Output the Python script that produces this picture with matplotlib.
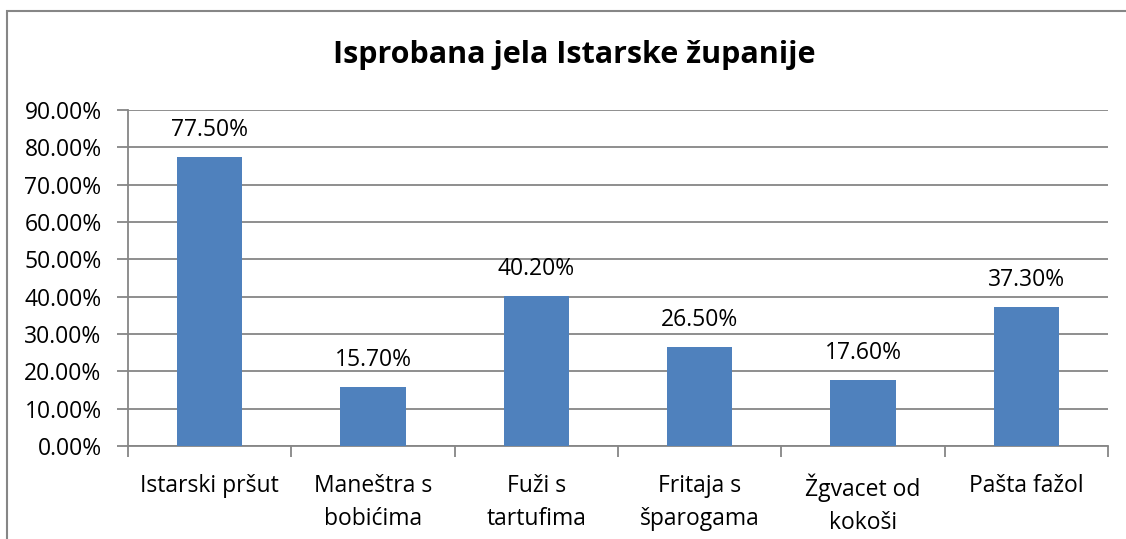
import matplotlib.pyplot as plt
from matplotlib.patches import Rectangle

categories = ['Istarski pršut', 'Maneštra s\nbobićima', 'Fuži s\ntartufima',
              'Fritaja s\nšparogama', 'Žgvacet od\nkokoši', 'Pašta fažol']
values = [77.5, 15.7, 40.2, 26.5, 17.6, 37.3]
yticks = [0, 10, 20, 30, 40, 50, 60, 70, 80, 90]
title = 'Isprobana jela Istarske županije'

plt.rcParams['font.family'] = ['Open Sans', 'DejaVu Sans']

fig = plt.figure(figsize=(11.26, 5.39), dpi=100)
# chart border (Excel style), cut at right/bottom edges
fig.patches.append(Rectangle((7 / 1126, -0.05), 1.2, 1 - 11 / 539 + 0.05,
                             transform=fig.transFigure, fill=False,
                             edgecolor='#868686', linewidth=1.5))

ax = fig.add_axes([128 / 1126, 1 - 446 / 539, 980 / 1126, 336 / 539])
x = range(len(categories))
ax.bar(x, values, width=0.4, color='#4F81BD', zorder=3)
for i, v in zip(x, values):
    ax.text(i, v + 4.0, f'{v:.2f}%', ha='center', va='bottom', fontsize=16.5)

ax.set_xlim(-0.5, len(categories) - 0.5)
ax.set_ylim(0, 90)
ax.set_yticks(yticks)
ax.set_yticklabels([f'{t:.2f}%' for t in yticks], fontsize=16.5)
ax.yaxis.grid(True, color='#868686', linewidth=1.3, zorder=0)

ax.set_xticks(list(x))
ax.set_xticklabels(categories, fontsize=16.5, linespacing=1.5)
ax.tick_params(axis='x', length=0, pad=20)
ax.set_xticks([i - 0.5 for i in range(len(categories) + 1)], minor=True)
ax.tick_params(axis='x', which='minor', length=8, color='#868686', width=1.3)
ax.tick_params(axis='y', length=8, color='#868686', width=1.3, pad=11)

for s in ['top', 'right']:
    ax.spines[s].set_visible(False)
for s in ['left', 'bottom']:
    ax.spines[s].set_color('#868686')
    ax.spines[s].set_linewidth(1.3)

fig.text(574 / 1126, 1 - 55 / 539, title, ha='center', va='center',
         fontsize=22, fontweight='bold')

fig.savefig('out.png', dpi=100)
